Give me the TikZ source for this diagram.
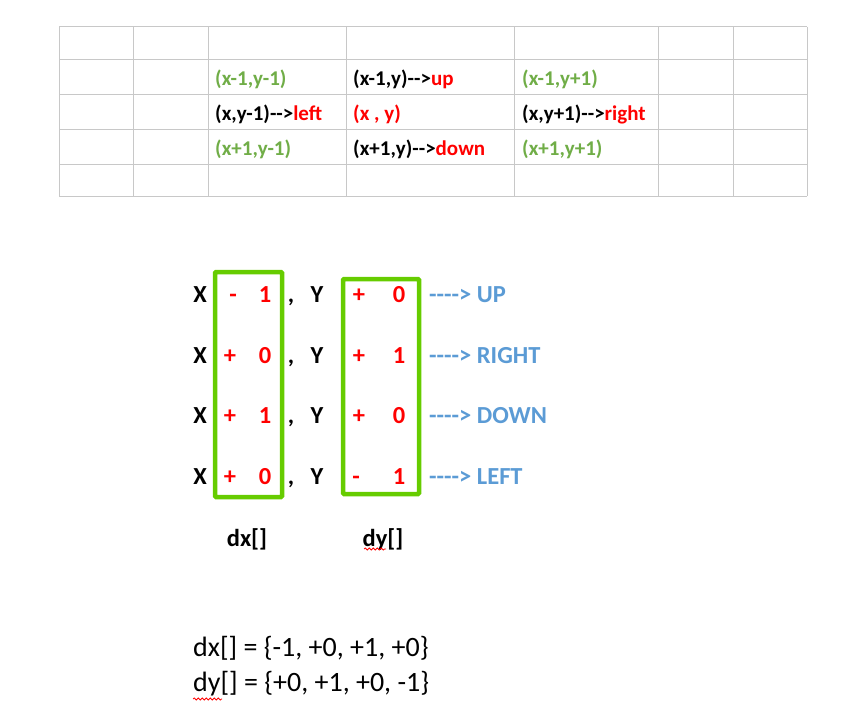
\documentclass[tikz,border=0pt]{standalone}
\usepackage{fontspec}
\setmainfont{Carlito}[Ligatures=TeXOff]
\usepackage{xcolor}
\usetikzlibrary{
	positioning,
	decorations.pathmorphing
}
\definecolor{gridgray}{RGB}{200,200,200}
\definecolor{cellgreen}{RGB}{112,173,71}
\definecolor{boxgreen}{RGB}{102,204,0}
\definecolor{dirblue}{RGB}{91,155,213}
\definecolor{hotred}{RGB}{255,0,0}

\begin{document}
\begin{tikzpicture}[x=1pt,y=-1pt,
		cell/.style={anchor=base west,inner sep=0pt,font=\fontsize{21}{25}\selectfont\bfseries},
		big/.style={anchor=base,inner sep=0pt,font=\fontsize{24.5}{29}\selectfont\bfseries},
		dir/.style={anchor=base west,inner sep=0pt,text=dirblue,font=\fontsize{24.5}{29}\selectfont\bfseries},
		plain/.style={anchor=base west,inner sep=0pt,font=\fontsize{28}{33}\selectfont},
		greenbox/.style={draw=boxgreen,line width=4.5pt,rounded corners=1pt},
		squiggle/.style={hotred,line width=0.8pt,decorate,decoration={snake,amplitude=1pt,segment length=4pt}}]
		
		\useasboundingbox (0,0) rectangle (858,709);
		
		%---------------- Table ----------------%
		
		\foreach \gx in {59,133,208,346,514,658,733,807}
		\draw[gridgray,line width=1pt] (\gx,27)--(\gx,196);
		\foreach \gy in {27,59,94,129,164,196}
		\draw[gridgray,line width=1pt] (59,\gy)--(807,\gy);
		
		\node[cell,text=cellgreen] (ul) at (215,85) {(x-1,y-1)};
		\node[cell] (up) at (353,85) {(x-1,y)-->\textcolor{hotred}{up}};
		\node[cell,text=cellgreen] (ur) at (522,85) {(x-1,y+1)};
		
		\node[cell] (lf) at (215,120) {(x,y-1)-->\textcolor{hotred}{left}};
		\node[cell,text=hotred] (me) at (353,120) {(x , y)};
		\node[cell] (rt) at (522,120) {(x,y+1)-->\textcolor{hotred}{right}};
		
		\node[cell,text=cellgreen] (dl) at (215,155) {(x+1,y-1)};
		\node[cell] (dn) at (353,155) {(x+1,y)-->\textcolor{hotred}{down}};
		\node[cell,text=cellgreen] (dr) at (522,155) {(x+1,y+1)};
		
		%---------------- dx / dy ----------------%
		
		\draw[greenbox] (215,272) rectangle (282,497);
		\draw[greenbox] (343,279) rectangle (419,494);
		
		\node[big] (x1) at (200,302) {X};
		\node[big,text=hotred] (sx1) at (233,302) {-};
		\node[big,text=hotred] (vx1) at (265,302) {1};
		\node[big] (c1) at (291,302) {,};
		\node[big] (y1) at (317,302) {Y};
		\node[big,text=hotred] (sy1) at (359,302) {+};
		\node[big,text=hotred] (vy1) at (399,302) {0};
		\node[dir] (d1) at (429,302) {----> UP};
		
		\node[big] (x2) at (200,363) {X};
		\node[big,text=hotred] (sx2) at (230,363) {+};
		\node[big,text=hotred] (vx2) at (265,363) {0};
		\node[big] (c2) at (291,363) {,};
		\node[big] (y2) at (317,363) {Y};
		\node[big,text=hotred] (sy2) at (359,363) {+};
		\node[big,text=hotred] (vy2) at (399,363) {1};
		\node[dir] (d2) at (429,363) {----> RIGHT};
		
		\node[big] (x3) at (200,423) {X};
		\node[big,text=hotred] (sx3) at (230,423) {+};
		\node[big,text=hotred] (vx3) at (265,423) {1};
		\node[big] (c3) at (291,423) {,};
		\node[big] (y3) at (317,423) {Y};
		\node[big,text=hotred] (sy3) at (359,423) {+};
		\node[big,text=hotred] (vy3) at (399,423) {0};
		\node[dir] (d3) at (429,423) {----> DOWN};
		
		\node[big] (x4) at (200,484) {X};
		\node[big,text=hotred] (sx4) at (230,484) {+};
		\node[big,text=hotred] (vx4) at (265,484) {0};
		\node[big] (c4) at (291,484) {,};
		\node[big] (y4) at (317,484) {Y};
		\node[big,text=hotred] (sy4) at (356,484) {-};
		\node[big,text=hotred] (vy4) at (399,484) {1};
		\node[dir] (d4) at (429,484) {----> LEFT};
		
		\node[big] (dxname) at (247,546) {dx[]};
		\node[big] (dyname) at (383,546) {dy[]};
		\draw[squiggle] (364,549)--(386,549);
		
		%---------------- Arrays ----------------%
		
		\node[plain] (dxarr) at (193,656) {dx[] = \{-1, +0, +1, +0\}};
		\node[plain] (dyarr) at (193,691) {dy[] = \{+0, +1, +0, -1\}};
		\draw[squiggle] (193,699)--(222,699);
		
	\end{tikzpicture}
\end{document}
